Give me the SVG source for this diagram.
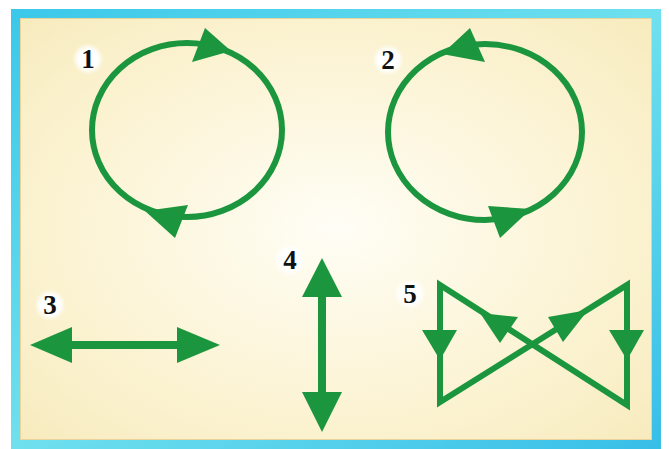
<svg xmlns="http://www.w3.org/2000/svg" width="669" height="449" viewBox="0 0 669 449">
  <defs>
    <radialGradient id="bg" cx="0.5" cy="0.5" r="0.7">
      <stop offset="0" stop-color="#fffef6"/>
      <stop offset="0.55" stop-color="#fcf4d6"/>
      <stop offset="1" stop-color="#f7ebbd"/>
    </radialGradient>
    <linearGradient id="frame" x1="0" y1="0" x2="1" y2="1">
      <stop offset="0" stop-color="#3cc8ea"/>
      <stop offset="0.5" stop-color="#6fe0ee"/>
      <stop offset="1" stop-color="#38bfe8"/>
    </linearGradient>
    <radialGradient id="halo" cx="0.5" cy="0.5" r="0.5">
      <stop offset="0.6" stop-color="#ffffff"/>
      <stop offset="1" stop-color="#ffffff" stop-opacity="0"/>
    </radialGradient>
  </defs>
  <style>
    .ln { fill: none; stroke: #1c963e; stroke-width: 6; }
    .thick { stroke-width: 8; }
    .hd { fill: #1c963e; stroke: none; }
    .num { font-family: "Liberation Serif", "DejaVu Serif", serif; font-weight: bold; font-size: 27px; fill: #111; text-anchor: middle; }
  </style>
  <rect x="0" y="0" width="669" height="449" fill="#ffffff"/>
  <rect x="15.5" y="13.5" width="641" height="431" fill="url(#bg)" stroke="url(#frame)" stroke-width="9"/>
  <rect x="20.5" y="18.5" width="631" height="421" fill="none" stroke="#e9d39a" stroke-width="1"/>

  <g id="fig1">
    <circle cx="88" cy="59" r="16" fill="url(#halo)"/>
    <text class="num" x="88" y="68">1</text>
    <ellipse class="ln" cx="187" cy="130" rx="95" ry="87"/>
    <polygon class="hd" points="205,28 192,62 231,51"/>
    <polygon class="hd" points="188,205 175,238 145,211"/>
  </g>

  <g id="fig2">
    <circle cx="388" cy="60" r="16" fill="url(#halo)"/>
    <text class="num" x="388" y="69">2</text>
    <ellipse class="ln" cx="485" cy="132" rx="97" ry="88"/>
    <polygon class="hd" points="470,28 485,62 442,54"/>
    <polygon class="hd" points="488,206 500,238 531,209"/>
  </g>

  <g id="fig3">
    <circle cx="50" cy="305" r="16" fill="url(#halo)"/>
    <text class="num" x="50" y="314">3</text>
    <line class="ln thick" x1="65" y1="345" x2="185" y2="345"/>
    <polygon class="hd" points="30,345 72,327 72,363"/>
    <polygon class="hd" points="220,345 177,327 177,363"/>
  </g>

  <g id="fig4">
    <circle cx="290" cy="260" r="16" fill="url(#halo)"/>
    <text class="num" x="290" y="269">4</text>
    <line class="ln thick" x1="322" y1="290" x2="322" y2="400"/>
    <polygon class="hd" points="322,258 302,297 342,297"/>
    <polygon class="hd" points="322,432 302,392 342,392"/>
  </g>

  <g id="fig5">
    <circle cx="410" cy="294" r="16" fill="url(#halo)"/>
    <text class="num" x="410" y="303">5</text>
    <path class="ln" stroke-linejoin="miter" stroke-miterlimit="10" d="M440,285 L440,402 L627,285 L627,405 Z"/>
    <polygon class="hd" points="422,330 457,330 440,360"/>
    <polygon class="hd" points="609,330 644,330 627,360"/>
    <polygon class="hd" points="548,317 563,342 588,310"/>
    <polygon class="hd" points="518,317 500,343 480,313"/>
  </g>
</svg>
